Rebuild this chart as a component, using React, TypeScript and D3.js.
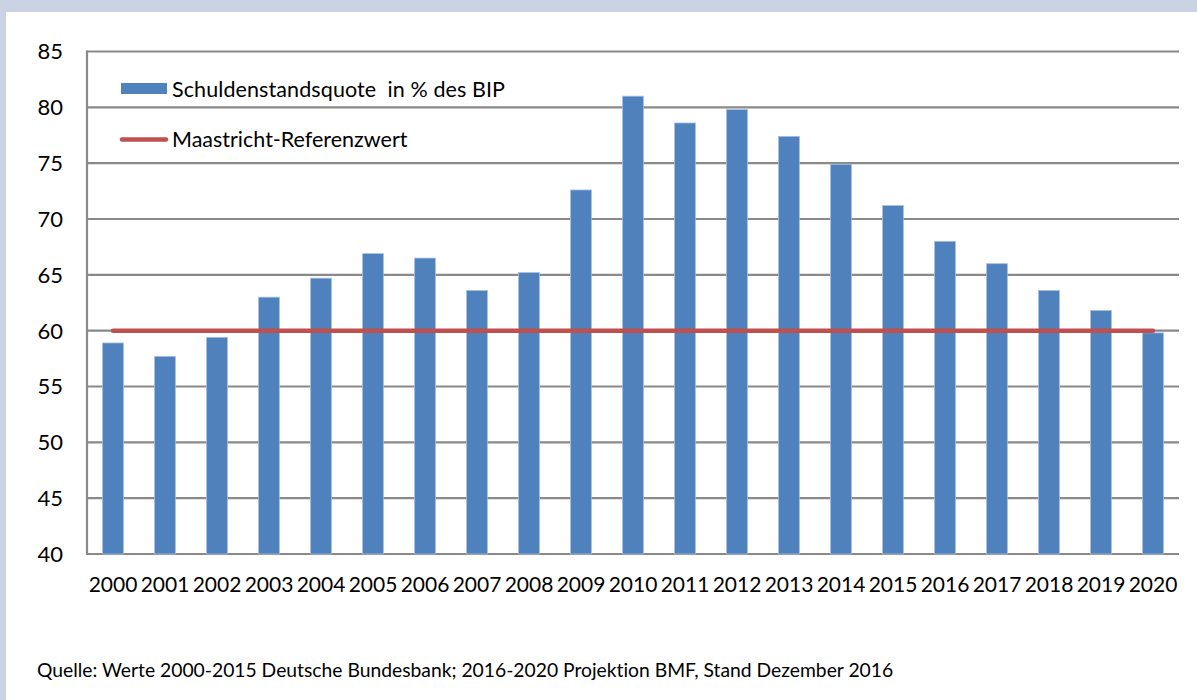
import React from "react";
import * as d3 from "d3";

const years = ["2000","2001","2002","2003","2004","2005","2006","2007","2008","2009","2010","2011","2012","2013","2014","2015","2016","2017","2018","2019","2020"];
const debtRatio = [58.9, 57.7, 59.4, 63.0, 64.7, 66.9, 66.5, 63.6, 65.2, 72.6, 81.0, 78.6, 79.8, 77.4, 74.9, 71.2, 68.0, 66.0, 63.6, 61.8, 59.8];
const referenceValue = 60;
const yTicks = [40, 45, 50, 55, 60, 65, 70, 75, 80, 85];
const legendLabels = ["Schuldenstandsquote  in % des BIP", "Maastricht-Referenzwert"];
const sourceText = "Quelle: Werte 2000-2015 Deutsche Bundesbank; 2016-2020 Projektion BMF, Stand Dezember 2016";

const W = 1197;
const H = 700;
const FONT = "Lato, 'Open Sans', sans-serif";

export default function App() {
  const x = d3.scaleBand<string>().domain(years).range([87, 1179]).paddingInner(0.6).paddingOuter(0.3);
  const y = d3.scaleLinear().domain([40, 85]).range([554, 51.5]);
  const cx = (yr: string) => (x(yr) as number) + x.bandwidth() / 2;
  const refLine = d3.line<string>().x((d) => cx(d)).y(() => y(referenceValue));
  const noLig = { fontVariantLigatures: "none" as const, whiteSpace: "pre" as const };

  return (
    <svg width={W} height={H} style={{ position: "absolute", left: 0, top: 0, display: "block" }}>
      <rect x={0} y={0} width={W} height={H} fill="#c9d3e3" />
      <rect x={6} y={12} width={W - 6} height={H - 12} fill="#ffffff" />

      {/* gridlines */}
      {yTicks.map((t) => (
        <line key={"g" + t} x1={87} x2={1179} y1={y(t)} y2={y(t)} stroke="#898989" strokeWidth={2.2} />
      ))}
      {/* left axis */}
      <line x1={87} x2={87} y1={y(85) - 1} y2={y(40) + 1} stroke="#898989" strokeWidth={2.2} />

      {/* y tick labels */}
      {yTicks.map((t) => (
        <text key={"yl" + t} x={63} y={y(t)} dy="0.36em" textAnchor="end" fontFamily={FONT} fontSize={22} fill="#000">
          {t}
        </text>
      ))}

      {/* bars */}
      {years.map((yr, i) => (
        <rect
          key={"b" + yr}
          x={x(yr) as number}
          y={y(debtRatio[i])}
          width={x.bandwidth()}
          height={y(40) - y(debtRatio[i])}
          fill="#4f81bd"
          stroke="#a7bfdf"
          strokeWidth={0.8}
        />
      ))}

      {/* reference line */}
      <path d={refLine(years) || ""} fill="none" stroke="#c0504d" strokeWidth={4.5} strokeLinecap="round" />

      {/* x labels */}
      {years.map((yr) => (
        <text key={"xl" + yr} x={cx(yr)} y={592} textAnchor="middle" fontFamily={FONT} fontSize={21} fill="#000">
          {yr}
        </text>
      ))}

      {/* legend */}
      <rect x={121} y={83} width={46} height={11} fill="#4f81bd" />
      <text x={172} y={97} fontFamily={FONT} fontSize={21.5} letterSpacing={0.1} fill="#000" style={noLig}>
        {legendLabels[0]}
      </text>
      <line x1={122} x2={166} y1={139.5} y2={139.5} stroke="#c0504d" strokeWidth={4.5} strokeLinecap="round" />
      <text x={172} y={147} fontFamily={FONT} fontSize={21.5} fill="#000" style={noLig}>
        {legendLabels[1]}
      </text>

      {/* source */}
      <text x={37} y={677} fontFamily={FONT} fontSize={19.3} fill="#000" style={noLig}>
        {sourceText}
      </text>
    </svg>
  );
}
